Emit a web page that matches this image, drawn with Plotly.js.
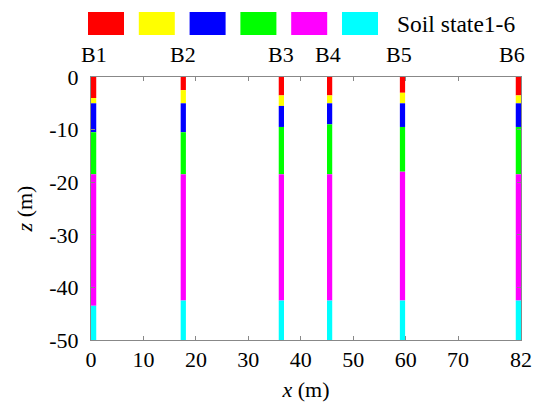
<!DOCTYPE html>
<html><head><meta charset="utf-8">
<script src="https://cdn.plot.ly/plotly-3.0.1.min.js"></script>
<style>html,body{margin:0;padding:0;background:#fff}</style>
</head><body><div id="chart" style="width:539px;height:402px"></div>
<script>
// ---- data ----
const boreholes = ["B1", "B2", "B3", "B4", "B5", "B6"];
const boreX = [0.5, 17.6, 36.3, 45.5, 59.4, 81.5];
// bottom depth (m) of each soil state at each borehole
const state1Bottom = [4.0, 2.5, 3.5, 3.5, 3.0, 3.5];
const state2Bottom = [5.0, 5.0, 5.5, 5.0, 5.0, 5.0];
const state3Bottom = [10.5, 10.5, 9.5, 9.0, 9.5, 9.5];
const state4Bottom = [18.5, 18.5, 18.5, 18.5, 18.0, 18.5];
const state5Bottom = [43.5, 42.5, 42.5, 42.5, 42.5, 42.5];
const state6Bottom = [50, 50, 50, 50, 50, 50];
const stateNames = ["Soil state 1", "Soil state 2", "Soil state 3", "Soil state 4", "Soil state 5", "Soil state 6"];
const stateColors = ["#ff0000", "#ffff00", "#0000ff", "#00ff00", "#ff00ff", "#00ffff"];
const legendText = "Soil state1-6";
const xTickVals = [0, 10, 20, 30, 40, 50, 60, 70, 82];
const xTickText = ["0", "10", "20", "30", "40", "50", "60", "70", "82"];
const yTickVals = [0, -10, -20, -30, -40, -50];
const yTickText = ["0", "-10", "-20", "-30", "-40", "-50"];

// ---- layout helpers ----
const W = 539, H = 402;
const M = {l: 91, r: 18, t: 77, b: 62};
const PW = W - M.l - M.r, PH = H - M.t - M.b;
const px2x = p => (p - M.l) / PW;
const px2y = p => (H - M.b - p) / PH;
const FONT = "Liberation Serif";

const bottoms = [state1Bottom, state2Bottom, state3Bottom, state4Bottom, state5Bottom, state6Bottom];
const traces = bottoms.map((bot, i) => {
  const top = i === 0 ? bot.map(() => 0) : bottoms[i - 1];
  return {
    type: "bar",
    name: stateNames[i],
    x: boreX,
    base: top.map(t => -t),
    y: bot.map((b, j) => -(b - top[j])),
    width: 1,
    marker: {color: stateColors[i], line: {width: 0}},
    hoverinfo: "skip",
    showlegend: false
  };
});

const shapes = stateColors.map((c, i) => ({
  type: "rect", xref: "paper", yref: "paper",
  x0: px2x(88 + i * 50.8), x1: px2x(124 + i * 50.8),
  y0: px2y(35), y1: px2y(12),
  fillcolor: c, line: {width: 0}
}));

const labelShift = [0, 0, 0, -2, -3, -6];
const annotations = boreholes.map((b, j) => ({
  x: boreX[j], xref: "x", y: px2y(55), yref: "paper",
  text: b, showarrow: false, xanchor: "center", yanchor: "middle",
  xshift: labelShift[j],
  font: {family: FONT, size: 22, color: "#000"}
}));
annotations.push({
  x: px2x(395), xref: "paper", y: px2y(24), yref: "paper",
  text: legendText, showarrow: false, xanchor: "left", yanchor: "middle",
  font: {family: FONT, size: 23.5, color: "#000"}
});

const axisCommon = {
  showline: true, linecolor: "#888", linewidth: 1, mirror: "ticks",
  ticks: "inside", ticklen: 4, tickcolor: "#888", tickwidth: 1,
  showgrid: false, zeroline: false,
  tickfont: {family: FONT, size: 22, color: "#000"},
  tickmode: "array"
};

const layout = {
  width: W, height: H,
  margin: M,
  paper_bgcolor: "#fff", plot_bgcolor: "#fff",
  barmode: "overlay",
  showlegend: false,
  font: {family: FONT, color: "#000"},
  xaxis: Object.assign({}, axisCommon, {
    range: [0, 82], tickvals: xTickVals, ticktext: xTickText,
    title: {text: "<i>x</i> (m)", font: {family: FONT, size: 22, color: "#000"}, standoff: 12}
  }),
  yaxis: Object.assign({}, axisCommon, {
    range: [-50, 0], tickvals: yTickVals, ticktext: yTickText,
    ticklabelstandoff: 7,
    title: {text: "<i>z</i> (m)", font: {family: FONT, size: 22, color: "#000"}, standoff: 10}
  }),
  shapes: shapes,
  annotations: annotations
};

Plotly.newPlot("chart", traces, layout, {displayModeBar: false, staticPlot: true});
</script>
</body></html>
